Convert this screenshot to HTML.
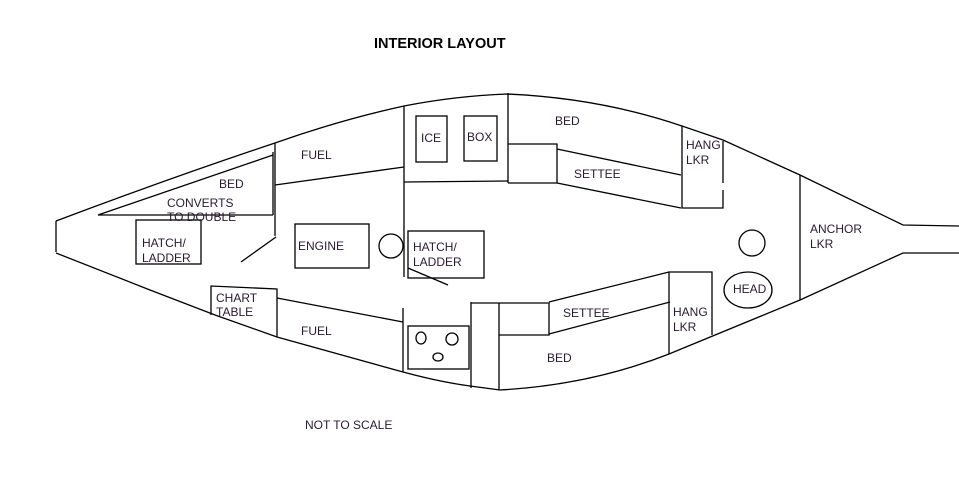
<!DOCTYPE html>
<html><head><meta charset="utf-8"><style>
html,body{margin:0;padding:0;background:#fff;}
svg{display:block}
text{font-family:"Liberation Sans",Arial,sans-serif;font-size:12px;fill:#2a1a30;dominant-baseline:central}
</style></head><body>
<svg width="959" height="499" viewBox="0 0 959 499" xmlns="http://www.w3.org/2000/svg">
<g fill="none" stroke="#000" stroke-width="1.3">
<path d="M56,221 L56,252"/>
<path d="M56,221 Q170,178 275,143 Q340,120 404,106 Q455,96 507,94 Q600,98 682,126 L723,140 L800,175 L903,225 L959,226"/>
<path d="M56,253 L150,290 L215,315 L277,337 L403,372 Q440,382 470,386 L500,390 Q590,385 669,354 L800,300 L903,253 L959,253"/>
<path d="M275,143 L275,236"/>
<path d="M98,215 L273,155 M98,215 L273,215 M273,152 L273,215"/>
<path d="M241,262 L276,237"/>
<path d="M275,185 L404,167"/>
<path d="M404,106 L404,277"/>
<path d="M404,182 L508,181"/>
<path d="M508,93 L508,183 M508,144 L557,144 L557,183 L508,183"/>
<rect x="416" y="116" width="31" height="46"/>
<rect x="464" y="116" width="33" height="45"/>
<path d="M557,149 L681,175 M557,183 L681,208"/>
<path d="M682,126 L682,208 L723,208 L723,190 M723,183 L723,141"/>
<path d="M800,175 L800,300"/>
<circle cx="752" cy="243" r="13"/>
<ellipse cx="748" cy="290" rx="24" ry="18"/>
<path d="M669,354 L669,272 L712,272 L712,335"/>
<path d="M549,302 L669,272 M549,334 L670,302"/>
<path d="M471,303 L549,303 L549,335 L499,335"/>
<path d="M499,303 L499,390 M471,302 L471,388"/>
<rect x="408" y="326" width="61" height="43"/>
<ellipse cx="421" cy="338" rx="5" ry="6"/>
<circle cx="452" cy="339" r="6"/>
<ellipse cx="438" cy="357" rx="5" ry="4"/>
<path d="M403,308 L403,372"/>
<path d="M277,298 L403,322"/>
<path d="M211,315 L211,286 L277,289 L277,337"/>
<rect x="136" y="220" width="65" height="44"/>
<rect x="295" y="224" width="74" height="44"/>
<circle cx="391" cy="246" r="12"/>
<rect x="408" y="231" width="76" height="47"/>
<path d="M408,268 L448,285"/>
</g>
<text x="374" y="44" style="font-size:14.5px;font-weight:bold;fill:#000">INTERIOR LAYOUT</text>
<text x="301" y="155">FUEL</text>
<text x="219" y="184">BED</text>
<text x="167" y="203">CONVERTS</text>
<text x="167" y="217">TO DOUBLE</text>
<text x="142" y="243">HATCH/</text>
<text x="142" y="258">LADDER</text>
<text x="298" y="246">ENGINE</text>
<text x="421" y="138">ICE</text>
<text x="467" y="137">BOX</text>
<text x="555" y="121">BED</text>
<text x="574" y="174">SETTEE</text>
<text x="686" y="145">HANG</text>
<text x="686" y="160">LKR</text>
<text x="413" y="247">HATCH/</text>
<text x="413" y="262">LADDER</text>
<text x="810" y="229">ANCHOR</text>
<text x="810" y="244">LKR</text>
<text x="733" y="289">HEAD</text>
<text x="216" y="298">CHART</text>
<text x="216" y="312">TABLE</text>
<text x="301" y="331">FUEL</text>
<text x="563" y="313">SETTEE</text>
<text x="673" y="312">HANG</text>
<text x="673" y="327">LKR</text>
<text x="547" y="358">BED</text>
<text x="305" y="425">NOT TO SCALE</text>
</svg>
</body></html>
